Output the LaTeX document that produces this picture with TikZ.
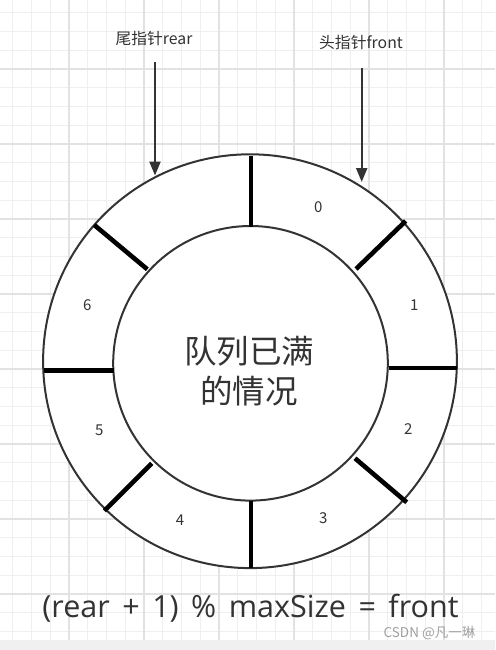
\documentclass[tikz,border=0pt]{standalone}
\usepackage{fontspec}
\setmainfont{Noto Sans CJK SC}
\newfontfamily\latinfont{Open Sans}
\usetikzlibrary{arrows.meta}
\definecolor{txt}{HTML}{333333}
\definecolor{gridminor}{HTML}{EFEFEF}
\definecolor{gridmajor}{HTML}{E2E2E2}
\definecolor{band}{HTML}{F0F0F0}
\definecolor{wm}{HTML}{A0A0A0}
\newcommand\widespaces{\spaceskip=12.5pt\relax}
\tikzset{
  minorline/.style={draw=gridminor, line width=0.9pt},
  majorline/.style={draw=gridmajor, line width=1.1pt},
  ring/.style={draw=txt, line width=2pt, fill=white},
  divider/.style={draw=black, line width=4.6pt},
  pointer/.style={draw=txt, line width=2.2pt, -{Triangle[length=14pt,width=11pt]}},
  toplabel/.style={text=txt, font=\fontsize{15.8}{18}\selectfont, inner sep=0pt},
  slot/.style={text=txt, font=\fontsize{15}{17}\selectfont, inner sep=0pt},
  centertext/.style={text=txt, font=\fontsize{32.5}{39.5}\selectfont, align=center, inner sep=0pt},
  formula/.style={text=txt, font=\latinfont\fontsize{30.5}{36}\selectfont, inner sep=0pt},
  watermark/.style={text=wm, font=\fontsize{13.5}{15}\selectfont, inner sep=0pt}
}
\begin{document}
\begin{tikzpicture}[x=1pt,y=-1pt]
\useasboundingbox (0,0) rectangle (495,650);
\fill[white] (0,0) rectangle (495,650);
% grid
\foreach \k in {0,...,27} {\draw[minorline] ({-6+18.75*\k},0) -- ({-6+18.75*\k},640);}
\foreach \k in {0,...,34} {\draw[minorline] (0,{-6+18.75*\k}) -- (495,{-6+18.75*\k});}
\foreach \k in {0,...,7} {\draw[majorline] ({-6+75*\k},0) -- ({-6+75*\k},640);}
\foreach \k in {0,...,8} {\draw[majorline] (0,{-6+75*\k}) -- (495,{-6+75*\k});}
\fill[band] (0,640) rectangle (495,650);
% rings
\draw[ring] (250,361.2) circle[radius=206.9];
\draw[ring] (250.5,363.3) circle[radius=137.3];
% dividers
\draw[divider] (251,155.5) -- (251,226.5);
\draw[divider] (405.7,221) -- (356,269);
\draw[divider] (388.5,368) -- (456.5,368);
\draw[divider] (355,458.3) -- (406.7,502.3);
\draw[divider] (251,500.5) -- (251,567.5);
\draw[divider] (151.7,463.3) -- (104.3,510.7);
\draw[divider] (43.5,370.7) -- (113.5,370.7);
\draw[divider] (94.3,225) -- (147.3,269.3);
% slot labels
\node[slot] (s0) at (318.3,207) {0};
\node[slot] (s1) at (414.3,305) {1};
\node[slot] (s2) at (408.3,429.3) {2};
\node[slot] (s3) at (323.3,518.3) {3};
\node[slot] (s4) at (180,520) {4};
\node[slot] (s5) at (99.3,430) {5};
\node[slot] (s6) at (87.3,305) {6};
% center text
\node[centertext] (full) at (249,371) {队列已满\\的情况};
% pointers
\node[toplabel] (rear) at (154,38) {尾指针rear};
\node[toplabel] (front) at (361,42.5) {头指针front};
\coordinate (rearS) at (155,62);
\coordinate (rearT) at (155,175.5);
\coordinate (frontS) at (361.7,68);
\coordinate (frontT) at (361.7,182);
\draw[pointer] (rearS) -- (rearT);
\draw[pointer] (frontS) -- (frontT);
% formula
\node[formula] (eq) at (250.5,608) {\widespaces (rear + 1) \% maxSize = front};
\node[watermark] (wmk) at (429.5,633.5) {CSDN @凡一琳};
\end{tikzpicture}
\end{document}
